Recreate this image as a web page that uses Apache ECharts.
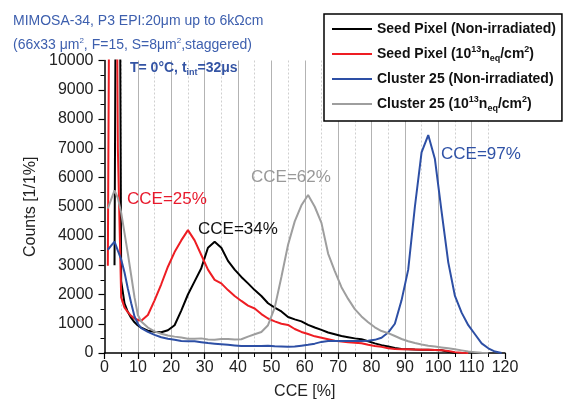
<!DOCTYPE html>
<html>
<head>
<meta charset="utf-8">
<script src="https://cdn.jsdelivr.net/npm/echarts@6/dist/echarts.min.js"></script>
<style>html,body{margin:0;padding:0;background:#fff;}#c{width:563px;height:405px;}</style>
</head>
<body>
<div id="c"></div>
<script>
// CCE bin centres [%]
const cce = [1,2,3,4,5,6,7,8,9,10,11,
  13,15,17,19,21,23,25,27,29,31,33,35,37,39,41,43,45,47,49,51,53,55,57,59,61,63,65,67,69,71,73,75,77,79,81,83,85,87,89,91,93,95,97,99,101,103,105,107,109,111,113,115,117,119];

const seedNonIrr = [null,null,3000,30000,2460,1700,1400,1200,1050,940,870,
  760,730,710,780,950,1450,2000,2450,2900,3600,3800,3600,3150,2850,2600,2380,2150,1950,1700,1550,1420,1230,1150,1080,960,870,790,700,640,580,540,500,470,400,330,270,220,170,140,130,120,115,110,105,95,40,0,null,null,null,null,null,null,null];

const seedIrr = [2980,26000,26000,7000,1900,1550,1400,1270,1180,1130,1100,
  1300,1800,2350,2950,3450,3850,4200,3850,3350,2850,2500,2380,2150,1950,1780,1620,1520,1330,1180,1080,1000,960,820,720,650,570,520,470,420,390,370,350,330,280,240,210,160,140,130,125,120,115,110,100,90,70,30,10,0,null,null,null,null,null];

const clusterNonIrr = [3530,3670,3810,3500,3200,2750,2200,1700,1250,1000,850,
  720,620,540,490,450,410,400,400,370,340,320,300,280,260,240,240,240,240,250,230,220,210,220,250,280,320,380,410,410,410,410,410,410,420,450,520,700,1000,1800,2850,5000,6860,7450,6630,4830,3100,1950,1380,950,640,330,160,50,0];

const clusterIrr = [4940,5250,5560,5300,4800,4100,3400,2650,1900,1300,1080,
  870,740,660,600,560,530,490,490,500,460,450,480,480,460,470,560,640,720,950,1550,2600,3700,4500,5050,5400,5000,4450,3400,2800,2250,1850,1500,1250,1050,880,750,680,580,480,400,340,290,250,220,190,160,130,90,50,30,10,0,null,null];

const seriesNames = [
  'Seed Pixel (Non-irradiated)',
  'Seed Pixel (10^13 n_eq/cm^2)',
  'Cluster 25 (Non-irradiated)',
  'Cluster 25 (10^13 n_eq/cm^2) '
];
const seriesColors = ['#000000', '#ee1d23', '#2d4fa5', '#9e9e9e'];
const seriesValues = [seedNonIrr, seedIrr, clusterNonIrr, clusterIrr];

const xTicks = {min: 0, max: 120, interval: 10};
const yTicks = {min: 0, max: 10000, interval: 1000};

function pairs(vals) {
  const out = [];
  for (let i = 0; i < cce.length; i++) {
    if (vals[i] !== null) out.push([cce[i], vals[i]]);
  }
  return out;
}

const FONT = 'Liberation Sans, Arial';
const legendRich = {
  b: {fontSize: 14, fontWeight: 'bold', color: '#111', fontFamily: FONT},
  sup: {fontSize: 9, fontWeight: 'bold', color: '#111', fontFamily: FONT, padding: [0,0,9,0]},
  sub: {fontSize: 9, fontWeight: 'bold', color: '#111', fontFamily: FONT, padding: [9,0,0,0]}
};
function legendFmt(name) {
  if (name.indexOf('10^13') >= 0) {
    const base = name.split(' (')[0];
    return '{b|' + base + ' (10}{sup|13}{b|n}{sub|eq}{b|/cm}{sup|2}{b|)}';
  }
  return '{b|' + name + '}';
}

const chart = echarts.init(document.getElementById('c'), null, {renderer: 'canvas'});
chart.setOption({
  animation: false,
  backgroundColor: '#fff',
  textStyle: {fontFamily: FONT},
  title: {
    left: 8, top: 4,
    text: '{t|MIMOSA-34, P3 EPI:20μm up to 6kΩcm}\n{t|(66x33 μm}{s|2}{t|, F=15, S=8μm}{s|2}{t|,staggered)}',
    textStyle: {
      fontWeight: 'normal',
      rich: {
        t: {fontSize: 14, fontWeight: 'normal', color: '#3d5fae', lineHeight: 24, fontFamily: FONT},
        s: {fontSize: 8, fontWeight: 'normal', color: '#3d5fae', padding: [0,0,9,0], fontFamily: FONT}
      }
    }
  },
  grid: {left: 104.5, right: 58, top: 60.5, bottom: 49, containLabel: false},
  legend: {
    orient: 'vertical',
    left: 324, top: 14,
    padding: [8, 6, 8, 8],
    itemGap: 9,
    itemWidth: 40, itemHeight: 2,
    icon: 'rect',
    backgroundColor: '#fff',
    borderColor: '#000', borderWidth: 1.5,
    data: seriesNames,
    formatter: legendFmt,
    textStyle: {rich: legendRich}
  },
  xAxis: {
    type: 'value', min: xTicks.min, max: xTicks.max, interval: xTicks.interval,
    name: 'CCE [%]', nameLocation: 'middle', nameGap: 31,
    nameTextStyle: {fontSize: 16, color: '#222'},
    axisLine: {lineStyle: {color: '#000', width: 1.5}},
    axisTick: {show: true, length: 6, lineStyle: {color: '#000', width: 1.2}},
    minorTick: {show: true, splitNumber: 2, length: 4, lineStyle: {color: '#000', width: 1}},
    axisLabel: {fontSize: 16, color: '#222', margin: 7},
    splitLine: {show: true, showMinLine: false, showMaxLine: false, lineStyle: {color: '#b3b3b3', width: 1}},
    minorSplitLine: {show: true, lineStyle: {color: '#cfcfcf', width: 1, type: [2, 2]}}
  },
  yAxis: {
    type: 'value', min: yTicks.min, max: yTicks.max, interval: yTicks.interval,
    name: 'Counts [1/1%]', nameLocation: 'middle', nameGap: 61,
    nameTextStyle: {fontSize: 16, color: '#222'},
    axisLine: {show: true, lineStyle: {color: '#000', width: 1.5}},
    axisTick: {show: true, length: 6, lineStyle: {color: '#000', width: 1.2}},
    minorTick: {show: true, splitNumber: 2, length: 4, lineStyle: {color: '#000', width: 1}},
    axisLabel: {fontSize: 16, color: '#222', margin: 11, formatter: v => String(v)},
    splitLine: {show: false}
  },
  series: seriesNames.map((n, i) => ({
    name: n, type: 'line', symbol: 'none', clip: true,
    data: pairs(seriesValues[i]),
    itemStyle: {color: seriesColors[i]},
    lineStyle: {color: seriesColors[i], width: 2},
    z: 3 + i
  })),
  graphic: [
    {type: 'text', left: 130, top: 61, z: 50, style: {
      text: '{a|T= 0°C, t}{s|int}{a|=32μs}',
      rich: {
        a: {fontSize: 14, fontWeight: 'bold', fill: '#3454a4', color: '#3454a4', fontFamily: FONT},
        s: {fontSize: 9, fontWeight: 'bold', fill: '#3454a4', color: '#3454a4', padding: [9,0,0,0], fontFamily: FONT}
      }
    }},
    {type: 'text', left: 127, top: 191, z: 50, style: {text: 'CCE=25%', fill: '#e8192c', fontSize: 17, fontFamily: FONT}},
    {type: 'text', left: 198, top: 221, z: 50, style: {text: 'CCE=34%', fill: '#111', fontSize: 17, fontFamily: FONT}},
    {type: 'text', left: 251, top: 169, z: 50, style: {text: 'CCE=62%', fill: '#999', fontSize: 17, fontFamily: FONT}},
    {type: 'text', left: 441, top: 146, z: 50, style: {text: 'CCE=97%', fill: '#2f52a6', fontSize: 17, fontFamily: FONT}}
  ]
});
</script>
</body>
</html>
